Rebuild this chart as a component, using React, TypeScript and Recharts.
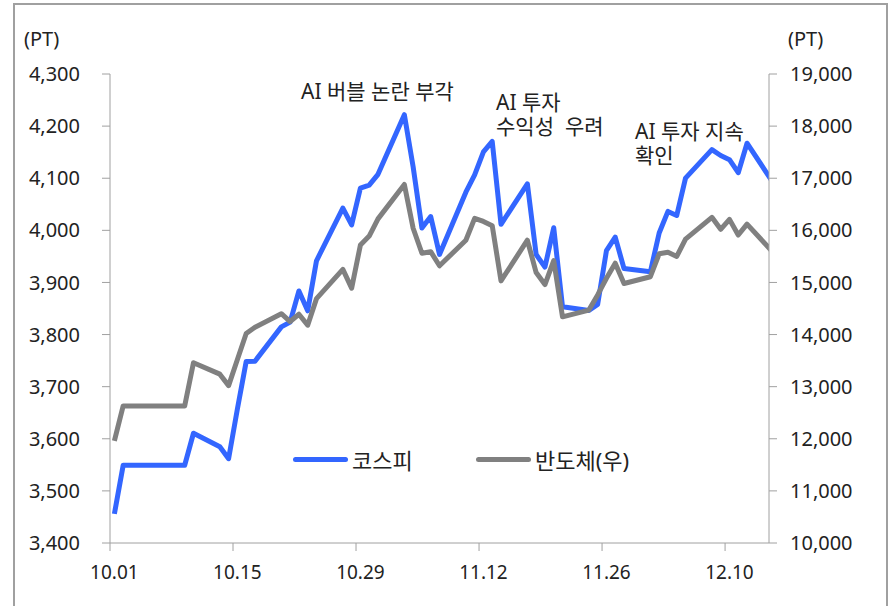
import { LineChart, Line, XAxis, YAxis, Legend } from "recharts";

// trading days (weekday holidays in early Oct carry the prior close)
const dates = [
  "10.01", "10.02", "10.03", "10.06", "10.07", "10.08", "10.09", "10.10", "10.13", "10.14",
  "10.15", "10.16", "10.17", "10.20", "10.21", "10.22", "10.23", "10.24", "10.27", "10.28",
  "10.29", "10.30", "10.31", "11.03", "11.04", "11.05", "11.06", "11.07", "11.10", "11.11",
  "11.12", "11.13", "11.14", "11.17", "11.18", "11.19", "11.20", "11.21", "11.24", "11.25",
  "11.26", "11.27", "11.28", "12.01", "12.02", "12.03", "12.04", "12.05", "12.08", "12.09",
  "12.10", "12.11", "12.12", "12.15",
];

const kospi = [
  3455.8, 3549.2, 3549.2, 3549.2, 3549.2, 3549.2, 3549.2, 3610.6, 3584.6, 3561.8,
  3657.3, 3748.4, 3748.9, 3814.7, 3823.8, 3883.7, 3845.6, 3941.6, 4042.8, 4010.4,
  4081.2, 4086.9, 4107.5, 4221.9, 4121.7, 4004.4, 4026.5, 3953.8, 4073.2, 4106.4,
  4150.4, 4170.6, 4011.6, 4089.3, 3953.6, 3929.5, 4004.9, 3853.3, 3846.1, 3857.8,
  3960.9, 3986.9, 3926.6, 3920.4, 3994.9, 4036.3, 4028.5, 4100.1, 4154.9, 4143.6,
  4135.6, 4110.6, 4167.2, 4090.6,
];

const semis = [
  11960, 12630, 12630, 12630, 12630, 12630, 12630, 13460, 13240, 13020,
  13520, 14020, 14140, 14400, 14250, 14390, 14180, 14690, 15250, 14890,
  15720, 15890, 16220, 16880, 16040, 15560, 15590, 15320, 15810, 16230,
  16170, 16090, 15030, 15810, 15190, 14960, 15420, 14340, 14470, 14760,
  15080, 15370, 14980, 15110, 15550, 15580, 15500, 15830, 16250, 16020,
  16210, 15910, 16120, 15570,
];

const seriesNames = ["코스피", "반도체(우)"];
const xTickLabels = ["10.01", "10.15", "10.29", "11.12", "11.26", "12.10"];
const leftTicks = [3400, 3500, 3600, 3700, 3800, 3900, 4000, 4100, 4200, 4300];
const rightTicks = [10000, 11000, 12000, 13000, 14000, 15000, 16000, 17000, 18000, 19000];

const BLUE = "#3366ff";
const GRAY = "#808080";
const AXIS = "#a0a0a0";
const FONT = "'Noto Sans', 'Noto Sans CJK KR', sans-serif";

// days since Oct 1 (date axis like excel)
function dayIndex(label: string) {
  const [m, d] = label.split(".").map(Number);
  return (Date.UTC(2025, m - 1, d) - Date.UTC(2025, 9, 1)) / 86400000;
}

// points sit in the middle of their day slot
const data = dates.map((d, i) => ({
  x: dayIndex(d) + 0.5,
  kospi: kospi[i],
  semis: semis[i],
}));

const xTicks = xTickLabels.map(dayIndex);
const fmt = (v: number) => v.toLocaleString("en-US");

const XTick = ({ x, y, payload }: any) => (
  <text x={x + 4.4} y={y} dy="0.71em" textAnchor="middle" fill="#222" fontSize={19}>
    {xTickLabels[xTicks.indexOf(payload.value)]}
  </text>
);

const renderLegend = ({ payload }: any) => {
  const items = [...(payload || [])].sort(
    (a: any, b: any) => seriesNames.indexOf(a.value) - seriesNames.indexOf(b.value)
  );
  return (
    <div style={{ position: "relative", width: 360, height: 30, fontSize: 22, color: "#222" }}>
      {items.map((p: any, i: number) => (
        <div
          key={p.value}
          style={{ position: "absolute", left: i * 183, top: 0, height: 30, display: "flex", alignItems: "center" }}
        >
          <span style={{ width: 55, height: 5, borderRadius: 3, background: p.color, marginRight: 4 }} />
          <span style={{ whiteSpace: "nowrap" }}>{p.value}</span>
        </div>
      ))}
    </div>
  );
};

const note = (left: number, top: number, text: string, size = 21) => (
  <div
    style={{
      position: "absolute",
      left,
      top,
      fontSize: size,
      lineHeight: "24px",
      whiteSpace: "pre",
      color: "#222",
    }}
  >
    {text}
  </div>
);

export default function App() {
  return (
    <div
      style={{
        position: "absolute",
        left: 0,
        top: 0,
        width: 895,
        height: 606,
        overflow: "hidden",
        background: "#fff",
        fontFamily: FONT,
      }}
    >
      <div
        style={{
          position: "absolute",
          left: 13,
          top: 3,
          width: 871,
          height: 640,
          border: `2px solid ${AXIS}`,
        }}
      />
      <div style={{ position: "absolute", left: 0, top: 0 }}>
        <LineChart width={895} height={606} data={data} margin={{ top: 74, right: 0, bottom: 0, left: 0 }}>
          <XAxis
            dataKey="x"
            type="number"
            domain={[0, 75]}
            allowDataOverflow
            ticks={xTicks}
            tick={<XTick />}
            height={63}
            tickSize={8}
            tickMargin={15}
            stroke={AXIS}
          />
          <YAxis
            yAxisId="left"
            orientation="left"
            domain={[3400, 4300]}
            ticks={leftTicks}
            tickFormatter={fmt}
            width={110}
            tickSize={8}
            tickMargin={22}
            stroke={AXIS}
            tick={{ fill: "#222", fontSize: 20 }}
          />
          <YAxis
            yAxisId="right"
            orientation="right"
            domain={[10000, 19000]}
            ticks={rightTicks}
            tickFormatter={fmt}
            width={126}
            tickSize={8}
            tickMargin={13}
            stroke={AXIS}
            tick={{ fill: "#222", fontSize: 20, textAnchor: "start" }}
          />
          <Legend
            layout="horizontal"
            verticalAlign="middle"
            align="center"
            content={renderLegend}
            wrapperStyle={{ left: 293, top: 444, width: 360, height: 30 }}
          />
          <Line
            yAxisId="left"
            dataKey="kospi"
            name={seriesNames[0]}
            type="linear"
            stroke={BLUE}
            strokeWidth={5}
            strokeLinejoin="round"
            dot={false}
            activeDot={false}
            isAnimationActive={false}
          />
          <Line
            yAxisId="right"
            dataKey="semis"
            name={seriesNames[1]}
            type="linear"
            stroke={GRAY}
            strokeWidth={5}
            strokeLinejoin="round"
            dot={false}
            activeDot={false}
            isAnimationActive={false}
          />
        </LineChart>
      </div>
      {note(24, 27, "(PT)", 20)}
      {note(788, 27, "(PT)", 20)}
      {note(301, 79, "AI 버블 논란 부각")}
      {note(496, 90, "AI 투자\n수익성  우려")}
      {note(635, 119, "AI 투자 지속\n확인")}
    </div>
  );
}
